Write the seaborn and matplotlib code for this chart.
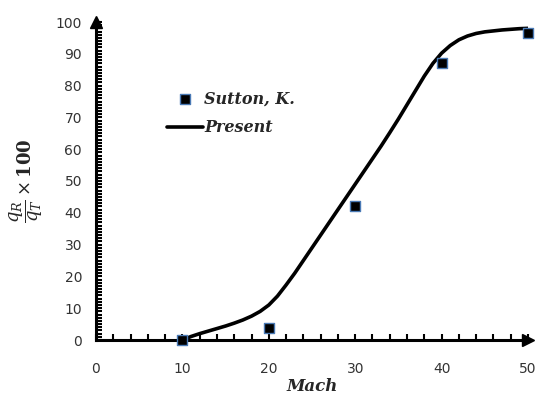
import matplotlib
matplotlib.use("Agg")
import matplotlib.pyplot as plt
import seaborn as sns
import pandas as pd
from matplotlib.ticker import MultipleLocator

# Data
sutton_mach = [10, 20, 30, 40, 50]
sutton_ratio = [0, 3.8, 42, 87, 96.5]

present_mach = [10, 11, 12, 13, 14, 15, 16, 17, 18, 19, 20, 21, 22, 23, 24, 25, 26, 27, 28, 29, 30,
                31, 32, 33, 34, 35, 36, 37, 38, 39, 40, 41, 42, 43, 44, 45, 46, 47, 48, 49, 50]
present_ratio = [0, 1.1, 2.0, 2.8, 3.6, 4.4, 5.3, 6.3, 7.5, 9.0, 11.0, 13.8, 17.3, 21.0, 25.0, 29.0,
                 33.0, 37.0, 41.0, 45.0, 49.0, 53.0, 57.0, 61.0, 65.2, 69.5, 74.0, 78.5, 83.0, 87.0,
                 90.2, 92.6, 94.4, 95.6, 96.4, 96.9, 97.2, 97.5, 97.7, 97.9, 98.0]

x_ticks = [0, 10, 20, 30, 40, 50]
y_ticks = [0, 10, 20, 30, 40, 50, 60, 70, 80, 90, 100]

sns.set_style("white")
plt.rcParams['font.family'] = ['DejaVu Sans']
plt.rcParams['mathtext.fontset'] = 'dejavuserif'

fig = plt.figure(figsize=(5.4, 4.0), dpi=100)
ax = fig.add_axes([96/540, 60/400, 432/540, 318/400])

df_s = pd.DataFrame({"Mach": sutton_mach, "ratio": sutton_ratio})
df_p = pd.DataFrame({"Mach": present_mach, "ratio": present_ratio})

sns.lineplot(data=df_p, x="Mach", y="ratio", ax=ax, color="black", linewidth=2.6,
             label="Present", zorder=3)
sns.scatterplot(data=df_s, x="Mach", y="ratio", ax=ax, marker="s", s=55,
                color="black", edgecolor="#4a7ab5", linewidth=1.0,
                label="Sutton, K.", zorder=4, clip_on=False)

ax.set_xlim(0, 50)
ax.set_ylim(0, 100)
ax.set_xticks(x_ticks)
ax.set_yticks(y_ticks)
ax.xaxis.set_minor_locator(MultipleLocator(2))
ax.yaxis.set_minor_locator(MultipleLocator(1))

for side in ["top", "right"]:
    ax.spines[side].set_visible(False)
for side in ["left", "bottom"]:
    ax.spines[side].set_linewidth(2.2)
    ax.spines[side].set_color("black")

ax.tick_params(axis="both", which="both", direction="in", length=4.5, width=1.5,
               color="black", bottom=True, left=True, top=False, right=False)
ax.tick_params(axis="x", which="major", pad=16, labelsize=10, labelcolor="#333333")
ax.tick_params(axis="y", which="major", pad=10, labelsize=10, labelcolor="#333333")

# arrow heads
ax.plot(1.0, 0, marker=">", color="black", markersize=9, transform=ax.transAxes,
        clip_on=False)
ax.plot(0, 1.0, marker="^", color="black", markersize=9, transform=ax.transAxes,
        clip_on=False)

ax.set_xlabel("Mach", fontsize=12, fontweight="bold", fontstyle="italic",
              family="DejaVu Serif", labelpad=1)
ax.set_ylabel(r"$\mathbf{\dfrac{\mathit{q_R}}{\mathit{q_T}}}\times\mathbf{100}$", fontsize=13, labelpad=8)

handles, labels = ax.get_legend_handles_labels()
order = [labels.index("Sutton, K."), labels.index("Present")]
leg = ax.legend([handles[i] for i in order], [labels[i] for i in order],
                loc="upper left", bbox_to_anchor=(153/540, 1 - 76/400),
                bbox_transform=fig.transFigure, frameon=False, handlelength=2.2,
                handletextpad=0.1, labelspacing=0.75,
                prop={"family": "DejaVu Serif", "weight": "bold", "style": "italic", "size": 11.5})

fig.savefig("out.png", dpi=100)
